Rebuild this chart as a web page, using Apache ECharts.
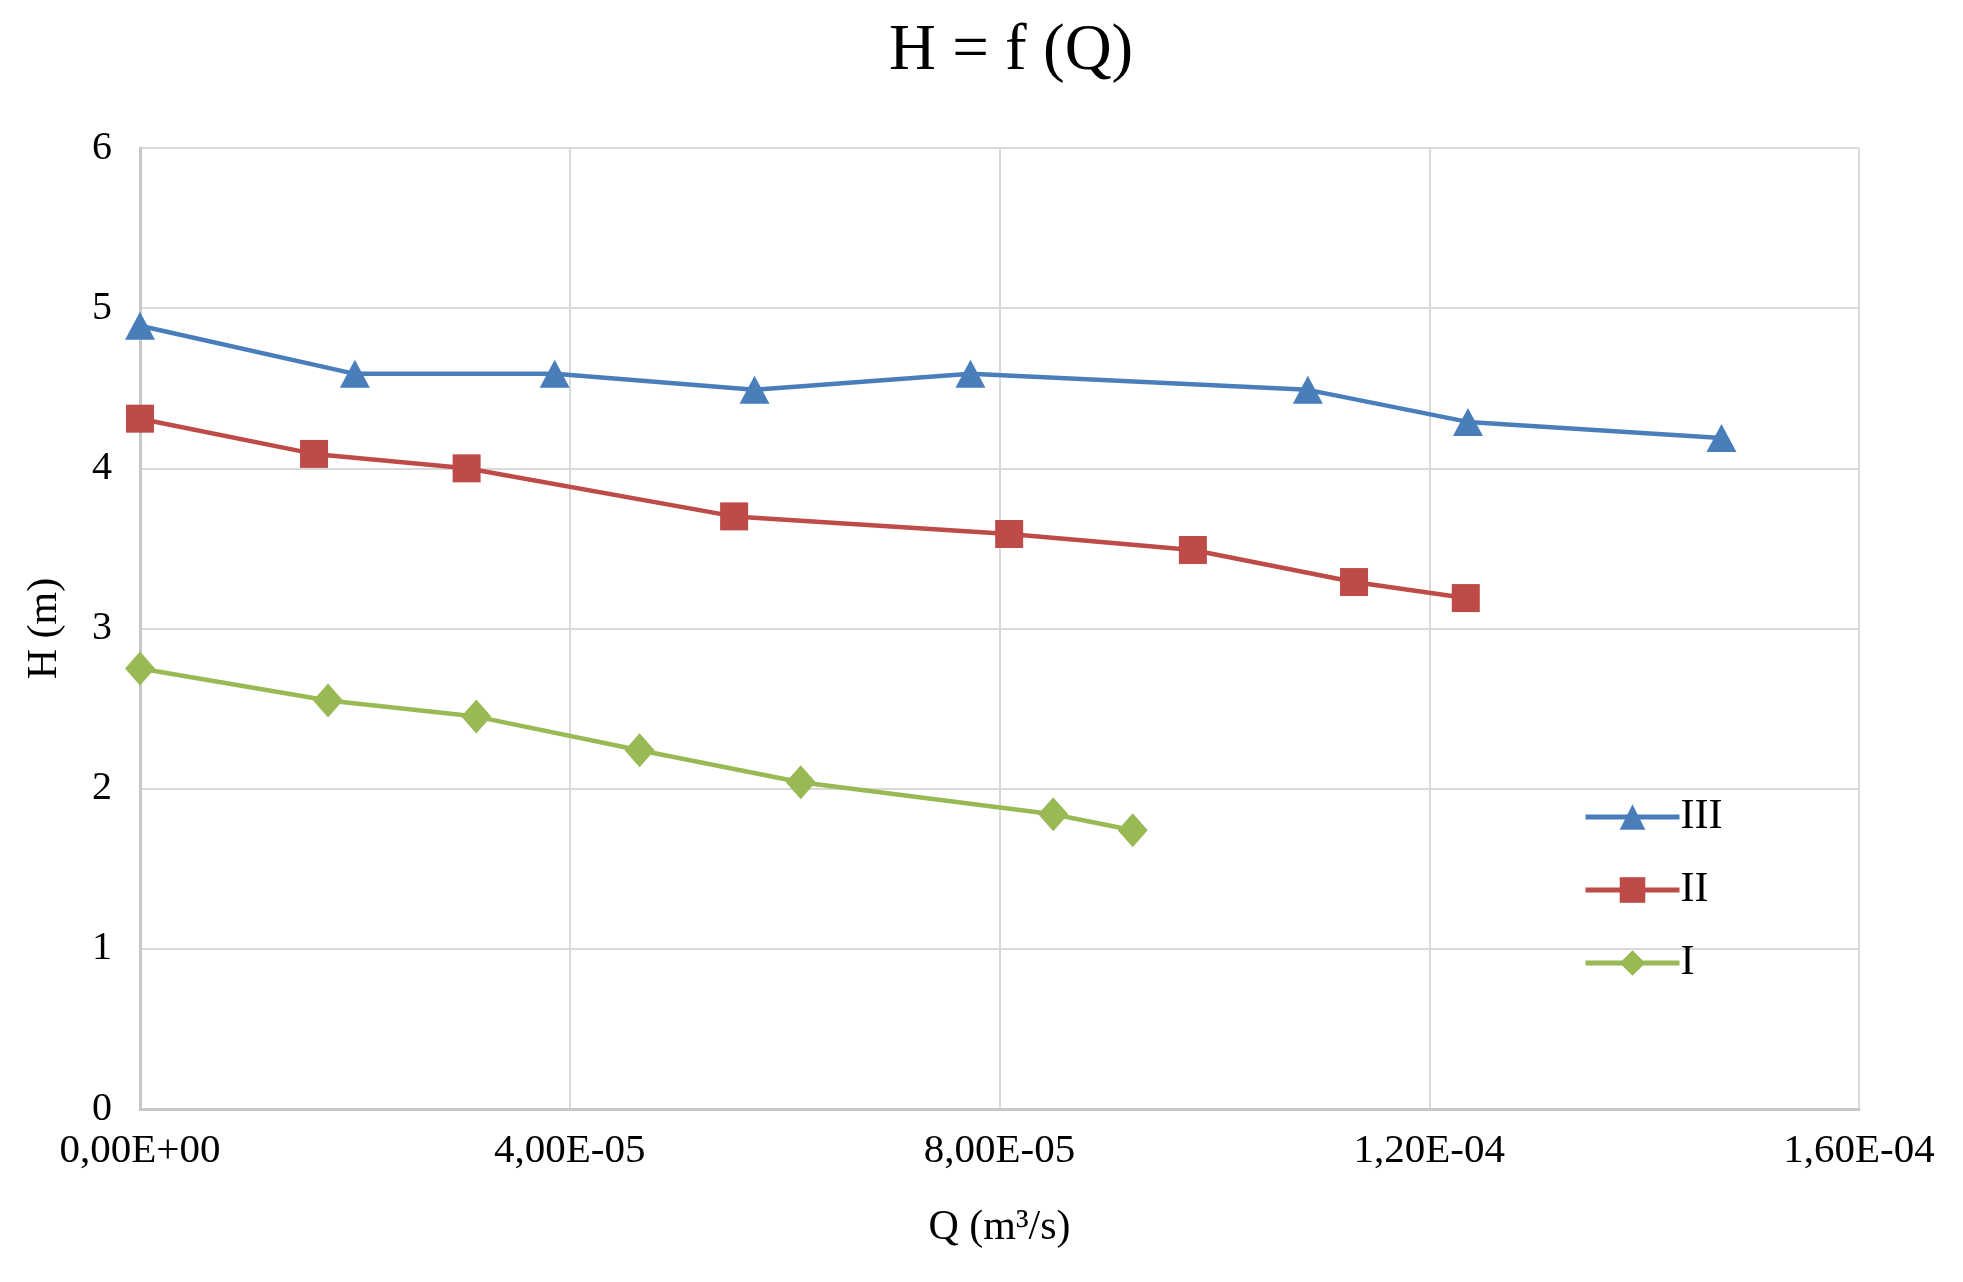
<!DOCTYPE html>
<html>
<head>
<meta charset="utf-8">
<script src="https://cdn.jsdelivr.net/npm/echarts@6/dist/echarts.min.js"></script>
<style>
html,body{margin:0;padding:0;background:#fff;}
#chart{width:1963px;height:1282px;}
</style>
</head>
<body>
<div id="chart"></div>
<script>
// Data
const xTickLabels = ['0,00E+00', '4,00E-05', '8,00E-05', '1,20E-04', '1,60E-04'];
const yTickLabels = ['0', '1', '2', '3', '4', '5', '6'];
const seriesNames = ['III', 'II', 'I'];

const qIII = [0, 2.0e-5, 3.86e-5, 5.72e-5, 7.73e-5, 10.87e-5, 12.36e-5, 14.72e-5];
const hIII = [4.89, 4.59, 4.59, 4.49, 4.59, 4.49, 4.29, 4.19];

const qII = [0, 1.62e-5, 3.04e-5, 5.53e-5, 8.09e-5, 9.80e-5, 11.30e-5, 12.34e-5];
const hII = [4.31, 4.09, 4.0, 3.7, 3.59, 3.49, 3.29, 3.19];

const qI = [0, 1.75e-5, 3.13e-5, 4.65e-5, 6.15e-5, 8.50e-5, 9.24e-5];
const hI = [2.75, 2.55, 2.45, 2.24, 2.04, 1.84, 1.74];

const colors = ['#4a7ebb', '#be4b48', '#98b954'];
const markers = ['triangle', 'rect', 'diamond'];
const markerSizes = [[30, 28], [28, 28], [30, 34]];

function pairs(xs, ys) { return xs.map((x, i) => [x, ys[i]]); }
const allData = [pairs(qIII, hIII), pairs(qII, hII), pairs(qI, hI)];

const serif = '"Liberation Serif", "DejaVu Serif", serif';

const chart = echarts.init(document.getElementById('chart'), null, {renderer: 'canvas'});
chart.setOption({
  backgroundColor: '#ffffff',
  animation: false,
  title: {
    text: 'H = f (Q)',
    left: 884,
    top: 14,
    textStyle: {fontFamily: serif, fontSize: 65, fontWeight: 'normal', color: '#000'}
  },
  grid: {left: 140, right: 104, top: 148, bottom: 173, containLabel: false},
  legend: {
    data: seriesNames,
    orient: 'vertical',
    left: 1578,
    top: 791,
    itemWidth: 94,
    itemHeight: 32,
    itemGap: 31,
    lineStyle: {width: 5},
    textStyle: {fontFamily: serif, fontSize: 42, color: '#000', padding: [0, 0, 0, -4]},
  },
  xAxis: {
    type: 'value',
    min: 0,
    max: 0.00016,
    interval: 0.00004,
    name: 'Q (m³/s)',
    nameLocation: 'middle',
    nameGap: 98,
    nameTextStyle: {fontFamily: serif, fontSize: 42, color: '#000'},
    axisLine: {show: true, lineStyle: {color: '#c8c8c8', width: 3}},
    axisTick: {show: false},
    axisLabel: {
      fontFamily: serif, fontSize: 41, color: '#000', margin: 22,
      formatter: function (v) { return xTickLabels[Math.round(v / 0.00004)] || ''; }
    },
    splitLine: {show: true, lineStyle: {color: '#d9d9d9', width: 2}}
  },
  yAxis: {
    type: 'value',
    min: 0,
    max: 6,
    interval: 1,
    name: 'H (m)',
    nameLocation: 'middle',
    nameGap: 74,
    nameRotate: 90,
    nameTextStyle: {fontFamily: serif, fontSize: 42, color: '#000'},
    axisLine: {show: true, lineStyle: {color: '#c8c8c8', width: 3}},
    axisTick: {show: false},
    axisLabel: {
      fontFamily: serif, fontSize: 40, color: '#000', margin: 28,
      formatter: function (v) { return yTickLabels[Math.round(v)] || ''; }
    },
    splitLine: {show: true, lineStyle: {color: '#d9d9d9', width: 2}}
  },
  series: seriesNames.map((name, i) => ({
    name: name,
    type: 'line',
    data: allData[i],
    symbol: markers[i],
    symbolSize: markerSizes[i],
    showAllSymbol: true,
    clip: false,
    lineStyle: {color: colors[i], width: 4.5},
    itemStyle: {color: colors[i], borderWidth: 0},
    z: 3 - i
  }))
});
</script>
</body>
</html>
